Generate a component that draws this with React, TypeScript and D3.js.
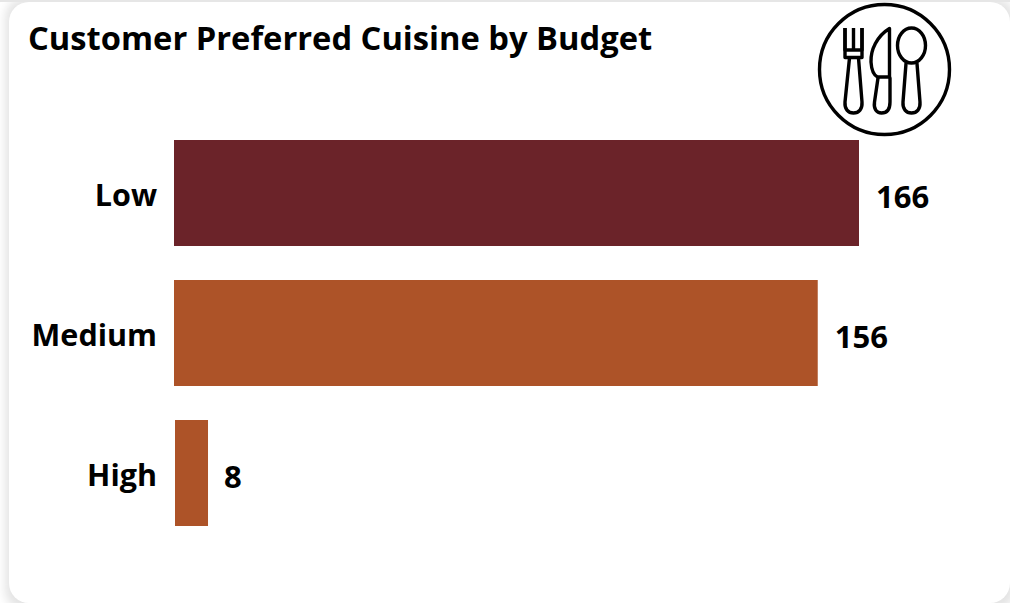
// Customer preferred cuisine by budget - horizontal bars
import React from 'react';
import * as d3 from 'd3';

const categories = ['Low', 'Medium', 'High'];
const counts = [166, 156, 8];
const barColors = ['#6B2329', '#AD5328', '#AD5328'];

const width = 1010;
const height = 603;
const fontFamily = '"Open Sans", "Noto Sans", sans-serif';

const x = d3.scaleLinear().domain([0, 166]).range([174, 859]);
const y = d3.scaleBand<string>()
  .domain(categories)
  .range([123, 543])
  .paddingInner(34 / 140)
  .paddingOuter(17 / 140);

// Plate icon, top right corner
const PlateIcon = () => (
  <g fill="none" stroke="#000" strokeWidth={3.4} strokeLinejoin="round" strokeLinecap="round">
    <circle cx={884.5} cy={69.5} r={65} />
    {/* fork */}
    <path d="M845 28V50H862V28M853.500 28V50" strokeLinecap="butt" />
    <path d="M845 28V57.500H862V28" strokeLinecap="butt" />
    <path d="M849.500 58L845 102C844.500 109 848 113 853.500 113C859 113 862.500 109 862 102L858.500 58" />
    {/* knife */}
    <path d="M889.500 28.500C877 36 870.500 50 871 62C871.500 70 873.500 75 877.500 77H889.500Z" />
    <path d="M878 78L874.500 102C873.500 109 876.500 113 881.500 113C887 113 890 109 890 102V78" />
    {/* spoon */}
    <ellipse cx={911.500} cy={45.500} rx={14} ry={17.500} />
    <path d="M906 63.500L903 102C902.500 109 906 113 911.500 113C917 113 920.500 109 920 102L917 63.500" />
  </g>
);

export default function App() {
  return (
    <svg
      width={width}
      height={height}
      viewBox={`0 0 ${width} ${height}`}
      style={{ position: 'absolute', left: 0, top: 0, display: 'block' }}
    >
      <defs>
        <filter id="cardShadow" x="-5%" y="-5%" width="110%" height="110%">
          <feGaussianBlur stdDeviation={5} />
        </filter>
      </defs>
      <rect width={width} height={height} fill="#fff" />
      <rect x={5} y={-2} width={1010} height={612} rx={20} fill="#e4e4e4" filter="url(#cardShadow)" />
      <rect x={9} y={2} width={1001} height={601} rx={20} fill="#fff" />
      <rect x={0} y={0} width={width} height={2} fill="#e6e6e6" />

      <text x={28} y={50} fontFamily={fontFamily} fontWeight={700} fontSize={32.7} fill="#000">
        Customer Preferred Cuisine by Budget
      </text>

      <PlateIcon />

      {categories.map((cat, i) => (
        <g key={cat}>
          <rect
            x={x(0) + (cat === 'High' ? 1 : 0)}
            y={y(cat)}
            width={x(counts[i]) - x(0)}
            height={y.bandwidth()}
            fill={barColors[i]}
          />
          <text
            x={157}
            y={y(cat)! + y.bandwidth() / 2 + 13}
            textAnchor="end"
            fontFamily={fontFamily}
            fontWeight={700}
            fontSize={30.5}
            fill="#000"
          >
            {cat}
          </text>
          <text
            x={x(counts[i]) + 17}
            y={y(cat)! + y.bandwidth() / 2 + 15}
            fontFamily={fontFamily}
            fontWeight={700}
            fontSize={31}
            fill="#000"
          >
            {counts[i]}
          </text>
        </g>
      ))}
    </svg>
  );
}
